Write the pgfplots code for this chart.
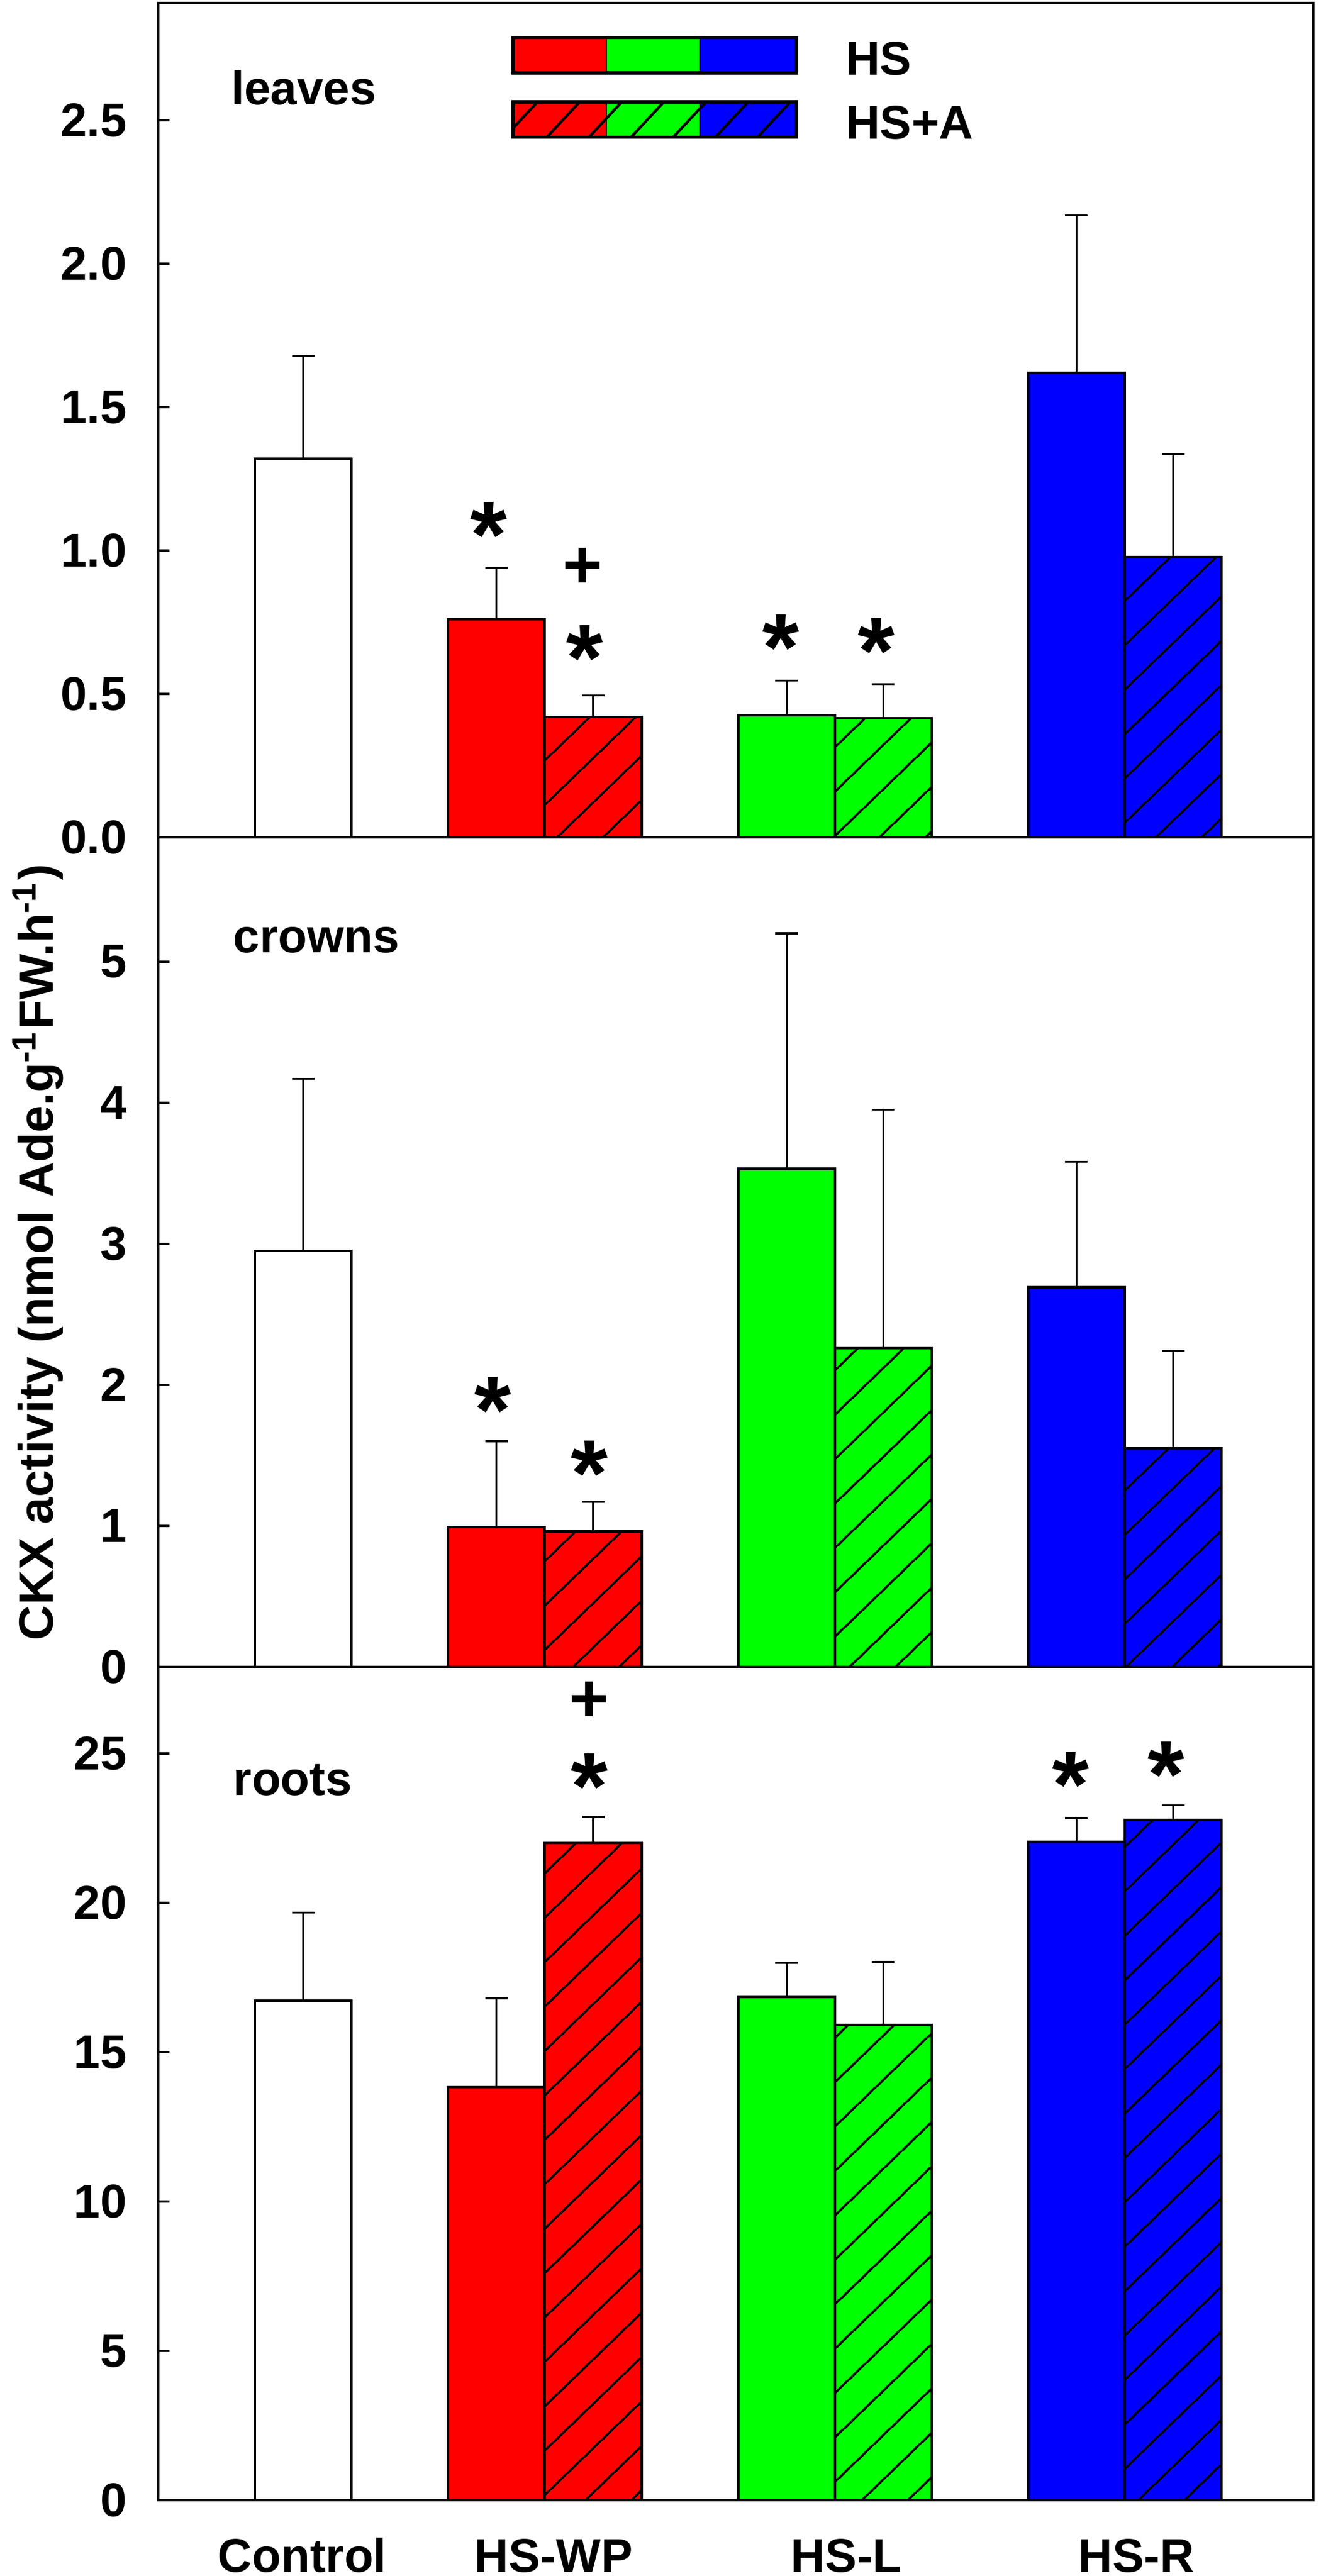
\documentclass[border=0pt]{standalone}
\usepackage{fontspec}
\setmainfont{Liberation Sans}
\usepackage{pgfplots}
\pgfplotsset{compat=1.18}
\usetikzlibrary{patterns.meta}
\definecolor{cred}{RGB}{255,0,0}
\definecolor{cgreen}{RGB}{0,255,0}
\definecolor{cblue}{RGB}{0,0,255}
\newcommand{\f}{\fontsize{8}{9.6}\selectfont\bfseries}
\tikzset{
  star/.style={font=\fontsize{16}{16}\selectfont\bfseries, inner sep=0pt, yshift=-3.1pt},
  plus/.style={font=\fontsize{11.5}{11.5}\selectfont\bfseries, inner sep=0pt},
}
\pgfplotsset{
  panel/.style={
    scale only axis, width=194.9pt, xmin=0, xmax=11.95, ymin=0,
    axis line style={line width=0.45pt},
    tick align=inside, ytick pos=left, xtick=\empty,
    major tick length=1.9pt, tick style={line width=0.4pt, black},
    /pgf/number format/assume math mode=true,
    tick label style={font=\f},
    yticklabel style={xshift=-1.8pt},
  },
  bb/.style={ybar, bar width=1, draw=black, line width=0.42pt, fill=#1,
    error bars/y dir=plus, error bars/y explicit,
    error bars/error bar style={line width=0.32pt, black},
    error bars/error mark options={rotate=90, line width=0.32pt, black, mark size=1.9pt}},
  hb/.style={bb=#1, postaction={pattern={Lines[angle=44,distance=5.4pt,line width=0.4pt]}}},
}
\begin{document}
\begin{tikzpicture}
\path[use as bounding box] (0pt,0pt) rectangle (222.8pt,-434.7pt);

% ---------------- leaves ----------------
\begin{axis}[panel, at={(26.7pt,-141.3pt)}, anchor=south west, height=140.8pt,
  ymax=2.91, ytick={0,0.5,1,1.5,2,2.5},
  yticklabel style={/pgf/number format/fixed, /pgf/number format/fixed zerofill, /pgf/number format/precision=1}]
\addplot[bb=white] coordinates {(1.5,1.32) +- (0,0.36)};
\addplot[bb=cred] coordinates {(3.5,0.76) +- (0,0.18)};
\addplot[hb=cred] coordinates {(4.5,0.42) +- (0,0.075)};
\addplot[bb=cgreen] coordinates {(6.5,0.426) +- (0,0.12)};
\addplot[hb=cgreen] coordinates {(7.5,0.415) +- (0,0.12)};
\addplot[bb=cblue] coordinates {(9.5,1.62) +- (0,0.55)};
\addplot[hb=cblue] coordinates {(10.5,0.977) +- (0,0.36)};
\node[star] at (axis cs:3.42,1.12) {*};
\node[plus] at (axis cs:4.39,0.939) {+};
\node[star] at (axis cs:4.41,0.69) {*};
\node[star] at (axis cs:6.44,0.727) {*};
\node[star] at (axis cs:7.43,0.715) {*};
\end{axis}

% ---------------- crowns ----------------
\begin{axis}[panel, at={(26.7pt,-281.3pt)}, anchor=south west, height=140pt,
  ymax=5.88, ytick={0,1,2,3,4,5}]
\addplot[bb=white] coordinates {(1.5,2.95) +- (0,1.22)};
\addplot[bb=cred] coordinates {(3.5,0.99) +- (0,0.61)};
\addplot[hb=cred] coordinates {(4.5,0.96) +- (0,0.21)};
\addplot[bb=cgreen] coordinates {(6.5,3.53) +- (0,1.67)};
\addplot[hb=cgreen] coordinates {(7.5,2.26) +- (0,1.69)};
\addplot[bb=cblue] coordinates {(9.5,2.69) +- (0,0.89)};
\addplot[hb=cblue] coordinates {(10.5,1.55) +- (0,0.69)};
\node[star] at (axis cs:3.46,1.95) {*};
\node[star] at (axis cs:4.46,1.50) {*};
\end{axis}

% ---------------- roots ----------------
\begin{axis}[panel, at={(26.7pt,-421.9pt)}, anchor=south west, height=140.6pt,
  ymax=27.9, ytick={0,5,10,15,20,25},
  xtick={1.49,4.09,7.12,10.12}, xticklabels={Control,HS-WP,HS-L,HS-R},
  xtick style={draw=none},
  xticklabel style={anchor=base, yshift=-12.1pt}]
\addplot[bb=white] coordinates {(1.5,16.72) +- (0,2.95)};
\addplot[bb=cred] coordinates {(3.5,13.84) +- (0,2.97)};
\addplot[hb=cred] coordinates {(4.5,22.01) +- (0,0.87)};
\addplot[bb=cgreen] coordinates {(6.5,16.86) +- (0,1.13)};
\addplot[hb=cgreen] coordinates {(7.5,15.91) +- (0,2.11)};
\addplot[bb=cblue] coordinates {(9.5,22.04) +- (0,0.80)};
\addplot[hb=cblue] coordinates {(10.5,22.78) +- (0,0.48)};
\node[plus] at (axis cs:4.46,26.73) {+};
\node[star] at (axis cs:4.46,24.51) {*};
\node[star] at (axis cs:9.44,24.57) {*};
\node[star] at (axis cs:10.43,24.91) {*};
\end{axis}

% panel labels
\node[anchor=base west, inner sep=0pt, font=\f] at (38.8pt,-17.6pt) {leaves};
\node[anchor=base west, inner sep=0pt, font=\f] at (39.2pt,-160.7pt) {crowns};
\node[anchor=base west, inner sep=0pt, font=\f] at (39.2pt,-302.9pt) {roots};

% y axis label
\node[rotate=90, anchor=base, inner sep=0pt, font=\fontsize{8.2}{9.8}\selectfont\bfseries] at (8.9pt,-211.3pt)
  {CKX activity (nmol Ade.g\textsuperscript{-1}FW.h\textsuperscript{-1})};

% legend
\foreach \c/\xa/\xb in {cred/86.6/102.4, cgreen/102.4/118.2, cblue/118.2/134.4}{
  \fill[\c] (\xa pt,-6.35pt) rectangle (\xb pt,-12.3pt);
  \fill[\c] (\xa pt,-17.2pt) rectangle (\xb pt,-23.15pt);
  \fill[pattern={Lines[angle=47,distance=5.2pt,line width=0.45pt]}] (\xa pt,-17.2pt) rectangle (\xb pt,-23.15pt);
  \draw[line width=0.35pt] (\xb pt,-6.35pt) -- (\xb pt,-12.3pt);
  \draw[line width=0.35pt] (\xb pt,-17.2pt) -- (\xb pt,-23.15pt);
}
\draw[line width=0.55pt] (86.6pt,-6.35pt) rectangle (134.4pt,-12.3pt);
\draw[line width=0.55pt] (86.6pt,-17.2pt) rectangle (134.4pt,-23.15pt);
\node[anchor=base west, inner sep=0pt, font=\f] at (142.5pt,-12.66pt) {HS};
\node[anchor=base west, inner sep=0pt, font=\f] at (142.5pt,-23.4pt) {HS+A};
\end{tikzpicture}
\end{document}
